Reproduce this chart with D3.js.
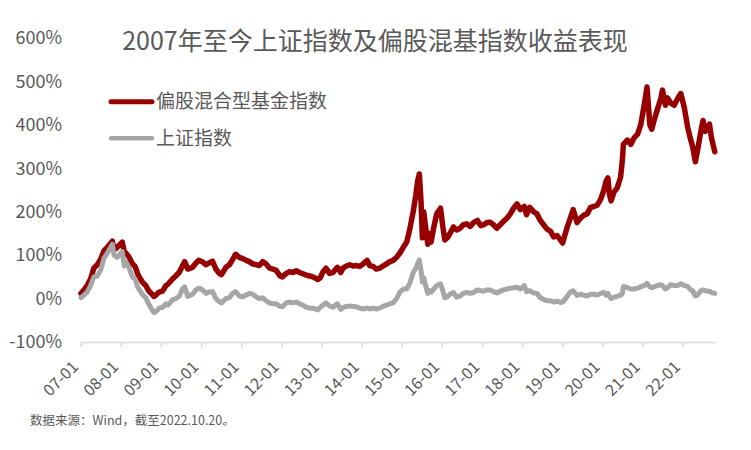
<!DOCTYPE html>
<html><head><meta charset="utf-8">
<script src="https://cdn.jsdelivr.net/npm/d3@7"></script>
<style>
html,body{margin:0;padding:0;background:#fff;}
svg{display:block;}
text{font-family:"Noto Sans CJK SC","Noto Sans",sans-serif;fill:#595959;}
</style></head>
<body>
<svg id="chart" width="751" height="450"></svg>
<script>
const title = "2007年至今上证指数及偏股混基指数收益表现";
const seriesNames = ["偏股混合型基金指数", "上证指数"];
const source = "数据来源：Wind，截至2022.10.20。";
const yTicks = [-100, 0, 100, 200, 300, 400, 500, 600];
const xTickYears = [2007,2008,2009,2010,2011,2012,2013,2014,2015,2016,2017,2018,2019,2020,2021,2022];

const dates = [
"2007-01-04","2007-02-01","2007-03-01","2007-04-01","2007-05-01","2007-06-01","2007-07-01","2007-08-01","2007-09-01","2007-10-16","2007-11-01","2007-11-28","2007-12-15",
"2008-01-14","2008-02-01","2008-02-15","2008-03-15","2008-04-15","2008-05-10","2008-06-05","2008-07-15","2008-08-15","2008-09-10","2008-10-10","2008-10-28","2008-11-15","2008-12-15",
"2009-01-15","2009-02-15","2009-03-05","2009-04-15","2009-05-15","2009-06-15","2009-07-15","2009-08-04","2009-09-01","2009-10-15","2009-11-15","2009-12-10",
"2010-01-15","2010-02-15","2010-03-15","2010-04-15","2010-05-15","2010-06-15","2010-07-05","2010-08-15","2010-09-15","2010-10-15","2010-11-10","2010-12-15",
"2011-01-15","2011-02-15","2011-03-15","2011-04-15","2011-05-15","2011-06-15","2011-07-15","2011-08-15","2011-09-15","2011-10-15","2011-11-15","2011-12-20",
"2012-01-10","2012-02-15","2012-03-15","2012-04-15","2012-05-15","2012-06-15","2012-07-15","2012-08-15","2012-09-15","2012-10-15","2012-11-28","2012-12-20",
"2013-01-15","2013-02-10","2013-03-15","2013-04-15","2013-05-25","2013-06-25","2013-07-15","2013-08-15","2013-09-15","2013-10-15","2013-11-15","2013-12-15",
"2014-01-15","2014-02-20","2014-03-15","2014-04-15","2014-05-15","2014-06-15","2014-07-15","2014-08-15","2014-09-15","2014-10-15","2014-11-15","2014-12-15",
"2015-01-15","2015-02-15","2015-03-15","2015-04-15","2015-05-10","2015-05-25","2015-06-10","2015-06-25","2015-07-08","2015-07-20","2015-08-01","2015-08-26","2015-09-10","2015-09-25","2015-10-20","2015-11-15","2015-12-20",
"2016-01-10","2016-01-28","2016-02-20","2016-03-15","2016-04-15","2016-05-15","2016-06-15","2016-07-15","2016-08-15","2016-09-15","2016-10-15","2016-11-20","2016-12-20",
"2017-01-15","2017-02-15","2017-03-15","2017-04-15","2017-05-15","2017-06-15","2017-07-15","2017-08-15","2017-09-15","2017-10-15","2017-11-15","2017-12-15",
"2018-01-20","2018-02-10","2018-03-10","2018-04-15","2018-05-15","2018-06-15","2018-07-15","2018-08-15","2018-09-15","2018-10-15","2018-11-15","2018-12-15",
"2019-01-04","2019-02-15","2019-03-15","2019-04-10","2019-05-15","2019-06-15","2019-07-15","2019-08-15","2019-09-15","2019-10-15","2019-11-15","2019-12-15",
"2020-01-15","2020-02-03","2020-02-20","2020-03-05","2020-03-20","2020-04-15","2020-05-15","2020-06-15","2020-07-01","2020-07-10","2020-08-15","2020-09-15","2020-10-15","2020-11-15","2020-12-15",
"2021-01-15","2021-02-10","2021-03-08","2021-03-25","2021-04-15","2021-05-15","2021-06-15","2021-07-01","2021-07-28","2021-08-15","2021-09-15","2021-10-15","2021-11-15","2021-12-15",
"2022-01-15","2022-02-15","2022-03-15","2022-04-01","2022-04-26","2022-05-15","2022-06-15","2022-07-05","2022-07-25","2022-08-15","2022-09-01","2022-09-20","2022-10-20"
];

const fundIndex = [
12,20,30,45,70,78,90,110,118,132,112,118,122,
130,108,105,96,80,74,55,38,30,18,10,5,8,15,
17,30,33,45,52,60,75,85,68,72,82,88,
84,78,82,86,68,58,55,72,78,90,102,95,
92,88,85,80,78,76,85,80,70,68,65,52,
50,58,62,60,64,60,57,54,52,50,44,48,
62,70,58,60,72,60,70,75,78,75,76,74,
80,88,76,74,68,70,75,80,85,88,95,105,
118,130,160,200,240,270,287,225,140,200,175,125,150,130,165,195,208,
165,135,140,150,165,158,162,170,172,166,175,180,168,
170,175,176,170,162,170,178,185,195,208,218,205,
212,193,210,200,195,180,170,160,155,142,145,135,
128,165,185,205,175,185,192,195,210,212,215,228,
250,270,278,240,225,245,255,280,320,355,365,355,370,378,400,
445,487,400,390,410,435,460,480,445,462,450,445,460,472,
440,395,365,350,315,340,385,410,385,392,402,370,338
];

const shIndex = [
2,8,15,30,50,52,65,93,105,125,100,95,100,
108,75,85,72,50,45,25,10,2,-12,-25,-32,-30,-22,
-20,-12,-15,-3,0,5,22,27,5,10,20,24,
20,12,15,16,0,-7,-10,0,2,12,16,6,
4,8,12,10,4,0,2,-5,-10,-12,-12,-18,
-19,-10,-8,-10,-8,-12,-15,-20,-22,-22,-26,-20,
-15,-10,-17,-20,-12,-25,-21,-18,-17,-18,-19,-22,
-24,-22,-24,-22,-24,-22,-18,-15,-12,-10,0,15,
22,22,35,60,70,80,89,65,38,48,35,12,18,15,22,30,34,
18,2,4,10,14,3,6,12,14,12,14,20,18,
17,20,20,16,13,17,20,22,24,25,26,22,
30,16,18,13,12,2,-2,-5,-5,-8,-6,-9,
-8,5,15,18,7,10,8,6,10,10,8,12,
14,8,12,5,0,3,5,8,12,28,25,22,22,24,27,
30,35,27,25,27,30,32,30,22,25,32,30,30,34,
30,28,20,18,6,8,18,20,18,17,17,14,12
];

const W = 751, H = 450;
const svg = d3.select("#chart");
const parse = d3.timeParse("%Y-%m-%d");
const fundData = dates.map((d,i)=>({date:parse(d), v:fundIndex[i]}));
const shData = dates.map((d,i)=>({date:parse(d), v:shIndex[i]}));

const x = d3.scaleTime()
  .domain([new Date(2007,0,1), new Date(2022,9,20)])
  .range([80.7, 714.8]);
const y = d3.scaleLinear().domain([-100, 600]).range([342, 38]);

// title
svg.append("text").attr("x", 375).attr("y", 50)
  .attr("text-anchor","middle").style("font-size","25px").text(title);

// y axis labels
const yAxis = d3.axisLeft(y).tickValues(yTicks).tickSize(0).tickPadding(0)
  .tickFormat(d => d + "%");
const gy = svg.append("g").attr("transform","translate(62,0)").call(yAxis);
gy.select(".domain").remove();
gy.selectAll("text").style("font-size","18px").style("fill","#595959")
  .style("font-family",'"Noto Sans CJK SC","Noto Sans",sans-serif');

// x axis
const xAxis = d3.axisBottom(x)
  .tickValues(xTickYears.map(yy => new Date(yy,0,1)))
  .tickSize(5).tickSizeOuter(0)
  .tickFormat(d3.timeFormat("%y-%m"));
const gx = svg.append("g").attr("transform","translate(0,342)").call(xAxis);
gx.select(".domain").attr("stroke","#D9D9D9").attr("stroke-width",1.5);
gx.selectAll(".tick line").attr("stroke","#D9D9D9").attr("stroke-width",1.5);
gx.selectAll("text")
  .style("font-size","16px").style("fill","#595959")
  .style("font-family",'"Noto Sans CJK SC","Noto Sans",sans-serif')
  .attr("text-anchor","end")
  .attr("dy",null).attr("y",null)
  .attr("transform","translate(-6,22) rotate(-45)")
  .attr("dy","0.35em");

// lines
const line = d3.line().x(d => x(d.date)).y(d => y(d.v));
svg.append("path").datum(fundData).attr("d", line)
  .attr("fill","none").attr("stroke","#960000").attr("stroke-width",5.5)
  .attr("stroke-linejoin","round").attr("stroke-linecap","round");
svg.append("path").datum(shData).attr("d", line)
  .attr("fill","none").attr("stroke","#A6A6A6").attr("stroke-width",5)
  .attr("stroke-linejoin","round").attr("stroke-linecap","round");

// legend
const legend = [
  {name: seriesNames[0], color:"#960000", y:101.7, w:5},
  {name: seriesNames[1], color:"#A6A6A6", y:138.3, w:4.5}
];
legend.forEach(l => {
  svg.append("line").attr("x1",111).attr("x2",152).attr("y1",l.y).attr("y2",l.y)
    .attr("stroke",l.color).attr("stroke-width",l.w).attr("stroke-linecap","round");
  svg.append("text").attr("x",156).attr("y",l.y).attr("dy","0.35em")
    .style("font-size","19px").text(l.name);
});

// source
svg.append("text").attr("x",30).attr("y",421).attr("dy","0.35em")
  .style("font-size","12.5px").text(source);
</script>
</body></html>
